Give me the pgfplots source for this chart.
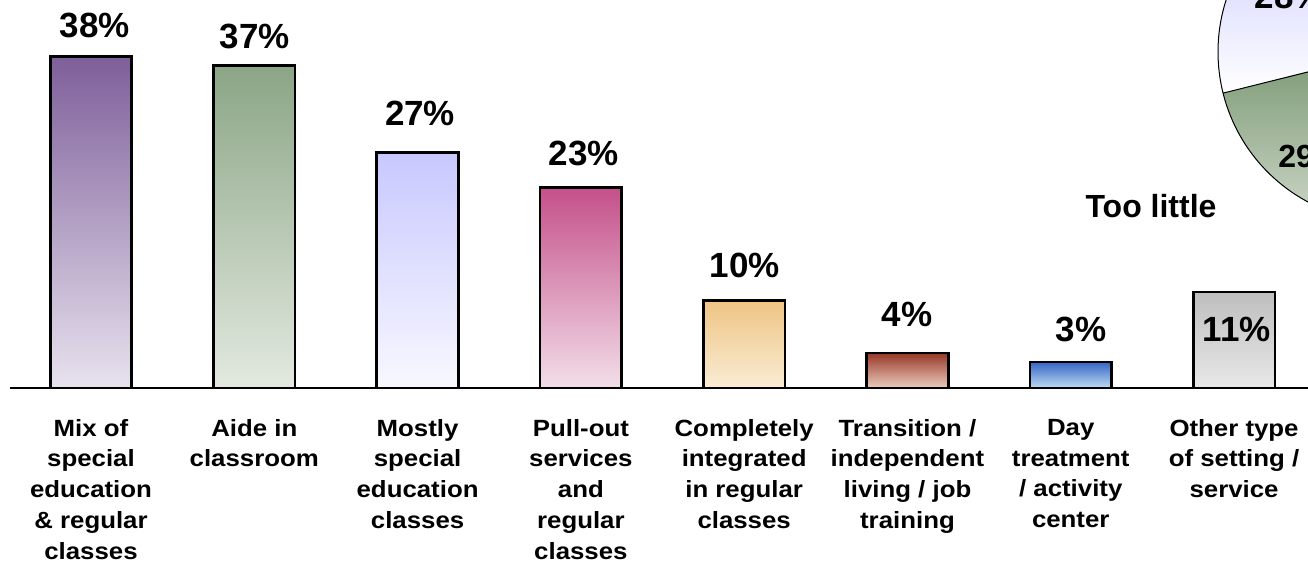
\documentclass[border=0pt]{standalone}
\usepackage{pgfplots}
\pgfplotsset{compat=1.18}
\usepackage{pgfplotstable}
\usepackage{fontspec}
\setmainfont{Liberation Sans}
\newfontfamily\catfont[FakeStretch=1.1]{Liberation Sans}

\definecolor{c1t}{HTML}{7E5F9A}\definecolor{c1b}{HTML}{E8E2EE}
\definecolor{c2t}{HTML}{8BA585}\definecolor{c2b}{HTML}{E3E9E0}
\definecolor{c3t}{HTML}{C8C8FF}\definecolor{c3b}{HTML}{F8F8FF}
\definecolor{c4t}{HTML}{C4508A}\definecolor{c4b}{HTML}{F3DEE9}
\definecolor{c5t}{HTML}{EEC584}\definecolor{c5b}{HTML}{FAECD4}
\definecolor{c6t}{HTML}{983828}\definecolor{c6b}{HTML}{EBCDBE}
\definecolor{c7t}{HTML}{3565C5}\definecolor{c7b}{HTML}{BEDCF2}
\definecolor{c8t}{HTML}{BEBEBE}\definecolor{c8b}{HTML}{E8E8E8}
\definecolor{pieLav}{HTML}{C0C0FF}
\definecolor{pieGrT}{HTML}{7B9974}\definecolor{pieGrB}{HTML}{D0D9CB}

\pgfplotstableread{
x y
0 38
1 37
2 27
3 23
4 10
5 4
6 3
7 11
}\bardata

\pgfplotstableread{
x y lab
0.024 40.25 38
1.004 38.99 37
2.015 30.05 27
3.019 25.57 23
4.005 12.73 10
4.997 7.11 4
6.063 5.28 3
7.018 5.28 11
}\labdata

\pgfplotsset{mybar/.style={ybar, bar width=0.5, bar shift=0pt, draw=black, line width=2pt}}

\begin{document}
\begin{tikzpicture}
\begin{axis}[
  scale only axis, width=973.5pt, height=291pt,
  xmin=-0.496, xmax=7.453, ymin=0, ymax=44.5,
  axis x line*=bottom, axis y line=none,
  axis line style={line width=1.5pt},
  xtick={0,...,7},
  xticklabels={{Mix of\\special\\education\\\& regular\\classes},
    {Aide in\\classroom},
    {Mostly\\special\\education\\classes},
    {Pull-out\\services\\and\\regular\\classes},
    {Completely\\integrated\\in regular\\classes},
    {Transition /\\independent\\living / job\\training},
    {Day\\treatment\\/ activity\\center},
    {Other type\\of setting /\\service}},
  major tick length=0pt,
  xticklabel style={font=\catfont\bfseries\fontsize{17.6}{23.1}\selectfont, align=center, anchor=north, yshift=-23.15pt, inner sep=0pt},
  ytick=\empty,
  clip=false,
]
\addplot[mybar, top color=c1t, bottom color=c1b] coordinates {(0,38)};
\addplot[mybar, top color=c2t, bottom color=c2b] coordinates {(1,37)};
\addplot[mybar, top color=c3t, bottom color=c3b] coordinates {(2,27)};
\addplot[mybar, top color=c4t, bottom color=c4b] coordinates {(3,23)};
\addplot[mybar, top color=c5t, bottom color=c5b] coordinates {(4,10)};
\addplot[mybar, top color=c6t, bottom color=c6b] coordinates {(5,4)};
\addplot[mybar, top color=c7t, bottom color=c7b] coordinates {(6,3)};
\addplot[mybar, top color=c8t, bottom color=c8b] coordinates {(7,11)};
\addplot[draw=none, mark=none, point meta=explicit symbolic,
  nodes near coords={\pgfplotspointmeta\%},
  every node near coord/.append style={font=\bfseries\fontsize{26.25}{30}\selectfont, inner sep=0pt, anchor=base, text=black}]
  table[x=x, y=y, meta=lab] {\labdata};
\end{axis}
\begin{scope}
\clip (-7.5pt,-134.25pt) rectangle (973.5pt,291pt);
\fill[top color=pieLav, bottom color=white] (1033.5pt,252pt) -- ++(194:127.5pt) arc[start angle=194, end angle=95, radius=127.5pt] -- cycle;
\fill[top color=pieGrT, bottom color=pieGrB] (1033.5pt,252pt) -- ++(194:127.5pt) arc[start angle=194, end angle=300, radius=127.5pt] -- cycle;
\draw[line width=0.75pt] (1033.5pt,252pt) -- ++(194:127.5pt);
\draw[line width=0.75pt] (1033.5pt,252pt) ++(95:127.5pt) arc[start angle=95, end angle=300, radius=127.5pt];
\node[anchor=base, inner sep=0pt, font=\bfseries\fontsize{26.25}{30}\selectfont] at (960pt,284.25pt) {28\%};
\node[anchor=base west, inner sep=0pt, font=\bfseries\fontsize{24}{28}\selectfont] at (951pt,165pt) {29\%};
\end{scope}
\node[anchor=base, inner sep=0pt, font=\bfseries\fontsize{24}{28}\selectfont] at (855.75pt,127.5pt) {Too little};
\pgfresetboundingbox
\path[use as bounding box] (-7.5pt,-134.25pt) rectangle (973.5pt,291pt);
\end{tikzpicture}
\end{document}
